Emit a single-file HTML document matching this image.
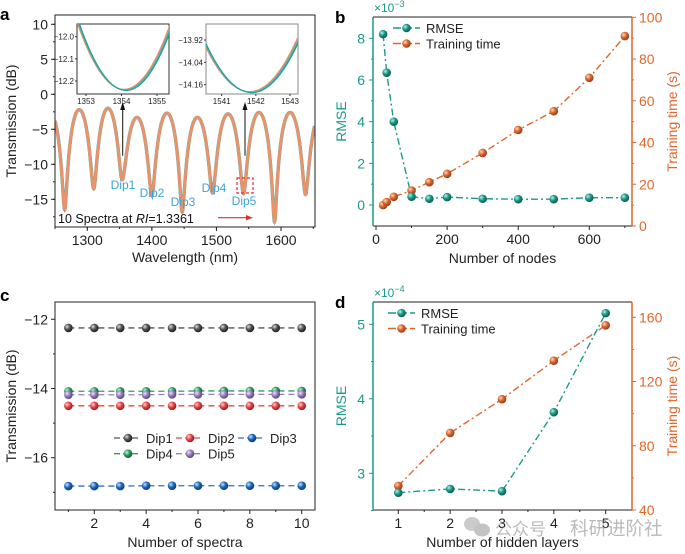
<!DOCTYPE html>
<html><head><meta charset="utf-8"><style>
body{margin:0;background:#fff;}
svg{display:block;font-family:"Liberation Sans","Noto Sans CJK SC",sans-serif;}
</style></head><body>
<svg id="fig" width="685" height="554" viewBox="0 0 685 554" xmlns="http://www.w3.org/2000/svg">
<defs>
<radialGradient id="gT" cx="35%" cy="35%" r="65%"><stop offset="0" stop-color="#bfeee6"/><stop offset="0.5" stop-color="#1a9a8a"/><stop offset="1" stop-color="#0b5f55"/></radialGradient>
<radialGradient id="gO" cx="35%" cy="35%" r="65%"><stop offset="0" stop-color="#ffd9c2"/><stop offset="0.5" stop-color="#e0662c"/><stop offset="1" stop-color="#96401a"/></radialGradient>
<radialGradient id="gK" cx="35%" cy="35%" r="65%"><stop offset="0" stop-color="#ddd"/><stop offset="0.5" stop-color="#555"/><stop offset="1" stop-color="#222"/></radialGradient>
<radialGradient id="gR" cx="35%" cy="35%" r="65%"><stop offset="0" stop-color="#ffd0d0"/><stop offset="0.5" stop-color="#e54848"/><stop offset="1" stop-color="#9a2020"/></radialGradient>
<radialGradient id="gB" cx="35%" cy="35%" r="65%"><stop offset="0" stop-color="#cfe2ff"/><stop offset="0.5" stop-color="#1f6cc0"/><stop offset="1" stop-color="#0d3d7a"/></radialGradient>
<radialGradient id="gG" cx="35%" cy="35%" r="65%"><stop offset="0" stop-color="#cff5dd"/><stop offset="0.5" stop-color="#2aa060"/><stop offset="1" stop-color="#13603a"/></radialGradient>
<radialGradient id="gP" cx="35%" cy="35%" r="65%"><stop offset="0" stop-color="#eee0ff"/><stop offset="0.5" stop-color="#9a7fc0"/><stop offset="1" stop-color="#5e4580"/></radialGradient>
</defs>
<g id="root"></g>
</svg>
<script>
// ---------- DATA ----------
// panel a
const aDipWl = [1220, 1265, 1310, 1354, 1400, 1447, 1494, 1542, 1590, 1638, 1686];
const aDipDb = [-14, -16.5, -13.5, -12.2, -14.5, -16.8, -14.1, -14.2, -18.2, -14.3, -15];
const aPeakDb = [-2.6, -2.2, -2.0, -3.3, -2.7, -3.3, -2.8, -2.6, -2.6, -2.7];
const aXTicks = [1300, 1400, 1500, 1600];
const aYTicks = [10, 5, 0, -5, -10, -15];
const aDipLabels = ["Dip1", "Dip2", "Dip3", "Dip4", "Dip5"];
// panel b
const bNodes = [20, 30, 50, 100, 150, 200, 300, 400, 500, 600, 700];
const bRmse = [8.2, 6.35, 4.0, 0.4, 0.3, 0.38, 0.3, 0.28, 0.28, 0.35, 0.35];
const bTime = [10, 11.5, 14, 17, 21, 25, 35, 46, 55, 71, 91];
const bXTicks = [0, 200, 400, 600];
const bYTicks = [0, 2, 4, 6, 8];
const bY2Ticks = [0, 20, 40, 60, 80, 100];
// panel c
const cSpectra = [1, 2, 3, 4, 5, 6, 7, 8, 9, 10];
const cDip1 = [-12.25, -12.25, -12.25, -12.25, -12.25, -12.25, -12.25, -12.25, -12.25, -12.25];
const cDip2 = [-14.5, -14.5, -14.5, -14.5, -14.5, -14.5, -14.5, -14.5, -14.5, -14.5];
const cDip3 = [-16.82, -16.82, -16.82, -16.81, -16.81, -16.81, -16.81, -16.81, -16.81, -16.81];
const cDip4 = [-14.08, -14.08, -14.08, -14.08, -14.08, -14.07, -14.07, -14.07, -14.07, -14.07];
const cDip5 = [-14.18, -14.18, -14.18, -14.18, -14.17, -14.17, -14.17, -14.17, -14.17, -14.17];
const cXTicks = [2, 4, 6, 8, 10];
const cYTicks = [-12, -14, -16];
// panel d
const dLayers = [1, 2, 3, 4, 5];
const dRmse = [2.74, 2.79, 2.76, 3.82, 5.15];
const dTime = [55, 88, 109, 133, 155];
const dYTicks = [3, 4, 5];
const dY2Ticks = [40, 80, 120, 160];

// ---------- HELPERS ----------
const NS = "http://www.w3.org/2000/svg";
const root = document.getElementById('root');
function el(tag, attrs, parent, txt) {
  const e = document.createElementNS(NS, tag);
  for (const k in attrs) e.setAttribute(k, attrs[k]);
  if (txt !== undefined) e.textContent = txt;
  (parent || root).appendChild(e);
  return e;
}
function lin(d0, d1, r0, r1) { return v => r0 + (v - d0) * (r1 - r0) / (d1 - d0); }
function text(x, y, s, opt, parent) {
  const t = el('text', Object.assign({x: x, y: y, 'font-size': 13, fill: '#222'}, opt || {}), parent, s);
  return t;
}
function ball(x, y, grad, parent, r) {
  const c = el('circle', {cx: x, cy: y, r: r || 4.3, fill: 'url(#' + grad + ')'}, parent);
  
  
  return c;
}
function poly(xs, ys, X, Y, opt, parent) {
  const pts = xs.map((v, i) => X(v).toFixed(2) + ',' + Y(ys[i]).toFixed(2)).join(' ');
  return el('polyline', Object.assign({points: pts, fill: 'none'}, opt), parent);
}

// ---------- PANEL A ----------
(function () {
  const g = el('g', {});
  
  
  const L = 55, R = 315, T = 15, B = 227;
  const X = lin(1250, 1600, 55, 281);
  const Y = lin(0, 10, 94.3, 24.3);
  text(0, 20, 'a', {'font-size': 17, 'font-weight': 'bold', fill: '#000'}, g);
  function T_at(w) {
    let i = 0;
    while (i < aDipWl.length - 2 && w > aDipWl[i + 1]) i++;
    const t = (w - aDipWl[i]) / (aDipWl[i + 1] - aDipWl[i]);
    const dip = t < 0.5 ? aDipDb[i] : aDipDb[i + 1];
    const Lmax = Math.pow(10, aPeakDb[i] / 10), Lmin = Math.pow(10, dip / 10);
    const Lv = Lmin + (Lmax - Lmin) * Math.pow(Math.sin(Math.PI * t), 2);
    return 10 * Math.log10(Lv);
  }
  const ws = [], vs = [];
  for (let w = 1250; w <= 1652; w += 0.25) { ws.push(w); vs.push(T_at(w)); }
  const clip = el('clipPath', {id: 'clipA'}, g);
  el('rect', {x: L, y: T, width: R - L, height: B - T}, clip);
  const cg = el('g', {'clip-path': 'url(#clipA)'}, g);
  const l1 = poly(ws, vs, X, Y, {stroke: '#3aa9a0', 'stroke-width': 3.4}, cg);
  
  
  const l2 = poly(ws, vs, X, Y, {stroke: '#e8936c', 'stroke-width': 3}, cg);
  
  
  el('rect', {x: L, y: T, width: R - L, height: B - T, fill: 'none', stroke: '#222', 'stroke-width': 1}, g);
  aXTicks.forEach(v => { el('line', {x1: X(v), x2: X(v), y1: B, y2: B + 4, stroke: '#222'}, g); text(X(v), B + 18, v, {'text-anchor': 'middle', 'font-size': 14}, g); });
  for (let v = 1250; v <= 1650; v += 50) el('line', {x1: X(v), x2: X(v), y1: B, y2: B + 2, stroke: '#222'}, g);
  aYTicks.forEach(v => { el('line', {x1: L - 4, x2: L, y1: Y(v), y2: Y(v), stroke: '#222'}, g); text(L - 7, Y(v) + 5, v < 0 ? '\u2212' + (-v) : v, {'text-anchor': 'end', 'font-size': 14}, g); });
  for (let v = -17.5; v <= 10; v += 2.5) el('line', {x1: L - 2, x2: L, y1: Y(v), y2: Y(v), stroke: '#222'}, g);
  const yl = text(0, 0, 'Transmission (dB)', {'text-anchor': 'middle', 'font-size': 14, transform: 'translate(16,121) rotate(-90)'}, g);
  
  
  const xl = text(185, 262, 'Wavelength (nm)', {'text-anchor': 'middle', 'font-size': 14}, g);
  
  
  const dl = [[123, 189], [152, 197], [183, 206], [214, 192], [244, 205]];
  aDipLabels.forEach((s, i) => { const t = text(dl[i][0], dl[i][1], s, {'text-anchor': 'middle', 'font-size': 12, fill: '#3aa3dc'}, g);   });
  el('rect', {x: 237, y: 178, width: 16, height: 15, fill: 'none', stroke: '#e03030', 'stroke-width': 1.2, 'stroke-dasharray': '3,2'}, g);
  el('line', {x1: 218, y1: 217.7, x2: 248, y2: 217.7, stroke: '#e03030', 'stroke-width': 1.2}, g);
  el('polygon', {points: '253,217.7 246,215 246,220.4', fill: '#e03030'}, g);
  const ann = text(58, 223, '', {'font-size': 12.5, fill: '#111'}, g);
  ann.innerHTML = '10 Spectra at <tspan font-style="italic">RI</tspan>=1.3361';
  
  
  [[122.7, 155.7], [245, 155.7]].forEach(p => {
    el('line', {x1: p[0], y1: p[1], x2: p[0], y2: 108, stroke: '#111', 'stroke-width': 1}, g);
    el('polygon', {points: p[0] + ',102 ' + (p[0] - 2.5) + ',110 ' + (p[0] + 2.5) + ',110', fill: '#111'}, g);
  });
  function inset(bx0, bx1, xd0, xd1, xpx0, xpx1, yd0, yd1, ypx0, ypx1, xt, yt, dec, cx, cy, halfw, top, name, gray) {
    const ig = el('g', {}, g);
    
    
    const IX = lin(xd0, xd1, xpx0, xpx1), IY = lin(yd0, yd1, ypx0, ypx1);
    el('rect', {x: bx0, y: 24, width: bx1 - bx0, height: 70, fill: '#fff', stroke: gray ? '#888' : '#333', 'stroke-width': 1}, ig);
    const ic = el('clipPath', {id: 'c' + name}, ig);
    el('rect', {x: bx0, y: 24, width: bx1 - bx0, height: 70}, ic);
    const cg2 = el('g', {'clip-path': 'url(#c' + name + ')'}, ig);
    const cols = ['#e8936c', '#d8906a', '#7cb0a0', '#3aa9a0', '#1aa3a0'];
    cols.forEach((c, k) => {
      const xs = [], ys = [];
      const off = (k - 2) * 0.012 * halfw, yo = (k - 2) * (top - cy) * 0.004;
      for (let s = -1.3; s <= 1.3; s += 0.02) { xs.push(cx + off + s * halfw); ys.push(cy - yo + (top - cy) * s * s); }
      poly(xs, ys, IX, IY, {stroke: c, 'stroke-width': 1.1}, cg2);
    });
    xt.forEach(v => { el('line', {x1: IX(v), x2: IX(v), y1: 94, y2: 96, stroke: '#333'}, ig); text(IX(v), 104, v, {'text-anchor': 'middle', 'font-size': 8}, ig); });
    yt.forEach(v => { el('line', {x1: bx0 - 2, x2: bx0, y1: IY(v), y2: IY(v), stroke: '#333'}, ig); text(bx0 - 3, IY(v) + 3, '\u2212' + (-v).toFixed(dec), {'text-anchor': 'end', 'font-size': 8}, ig); });
  }
  inset(77, 169, 1353, 1355, 86, 157, -12.0, -12.2, 36.7, 81, [1353, 1354, 1355], [-12.0, -12.1, -12.2], 1, 1354.1, -12.24, 1.4, -11.9, 'inset-dip1', false);
  inset(206, 298, 1541, 1543, 221.7, 290, -13.92, -14.16, 40, 84.7, [1541, 1542, 1543], [-13.92, -14.04, -14.16], 2, 1541.85, -14.2, 1.55, -13.85, 'inset-dip5', true);
})();

// ---------- dual axis panel ----------
function dual(cfg) {
  const g = el('g', {});
  
  
  const {L, R, T, B, X, Y, Y2} = cfg;
  const teal = '#1a9a8a', org = '#e0662c';
  text(L - 38, T + 6, cfg.letter, {'font-size': 17, 'font-weight': 'bold', fill: '#000'}, g);
  el('line', {x1: L, x2: R, y1: T, y2: T, stroke: '#222'}, g);
  el('line', {x1: L, x2: R, y1: B, y2: B, stroke: '#222'}, g);
  el('line', {x1: L, x2: L, y1: T, y2: B, stroke: teal, 'stroke-width': 1.5}, g);
  el('line', {x1: R, x2: R, y1: T, y2: B, stroke: org, 'stroke-width': 1.5}, g);
  cfg.xt.forEach(v => { el('line', {x1: X(v), x2: X(v), y1: B, y2: B + 4, stroke: '#222'}, g); text(X(v), B + 18, v, {'text-anchor': 'middle', 'font-size': 14}, g); });
  cfg.xm.forEach(v => el('line', {x1: X(v), x2: X(v), y1: B, y2: B + 2, stroke: '#222'}, g));
  cfg.yt.forEach(v => { el('line', {x1: L - 4, x2: L, y1: Y(v), y2: Y(v), stroke: teal}, g); text(L - 8, Y(v) + 5, v, {'text-anchor': 'end', 'font-size': 14, fill: teal}, g); });
  cfg.ym.forEach(v => el('line', {x1: L - 2, x2: L, y1: Y(v), y2: Y(v), stroke: teal}, g));
  cfg.y2t.forEach(v => { el('line', {x1: R, x2: R + 4, y1: Y2(v), y2: Y2(v), stroke: org}, g); text(R + 7, Y2(v) + 5, v, {'font-size': 14, fill: org}, g); });
  cfg.y2m.forEach(v => el('line', {x1: R, x2: R + 2, y1: Y2(v), y2: Y2(v), stroke: org}, g));
  const ex = text(L + 1, T - 5, '', {'font-size': 12, fill: teal}, g);
  ex.innerHTML = '\u00d710<tspan dy="-5" font-size="9">\u2212' + cfg.exp + '</tspan>';
  const yl = text(0, 0, 'RMSE', {'text-anchor': 'middle', 'font-size': 14, fill: teal, transform: 'translate(' + (L - 27) + ',' + ((T + B) / 2) + ') rotate(-90)'}, g);
  
  
  const y2l = text(0, 0, 'Training time (s)', {'text-anchor': 'middle', 'font-size': 14, fill: org, transform: 'translate(' + (R + 45) + ',' + ((T + B) / 2) + ') rotate(-90)'}, g);
  
  
  const xl = text((L + R) / 2, B + 37, cfg.xlabel, {'text-anchor': 'middle', 'font-size': 14}, g);
  
  
  const s2 = poly(cfg.x, cfg.t, X, Y2, {stroke: org, 'stroke-width': 1.4, 'stroke-dasharray': '7,3,2,3'}, g);
  
  
  const s1 = poly(cfg.x, cfg.r, X, Y, {stroke: teal, 'stroke-width': 1.4, 'stroke-dasharray': '7,3,2,3'}, g);
  
  
  cfg.x.forEach((v, i) => ball(X(v), Y2(cfg.t[i]), 'gO', g));
  cfg.x.forEach((v, i) => ball(X(v), Y(cfg.r[i]), 'gT', g));
  const lg = el('g', {}, g);
  
  
  const lx = cfg.lx, ly = cfg.ly;
  [['RMSE', teal, 'gT'], ['Training time', org, 'gO']].forEach((e, k) => {
    const yy = ly + k * 15.5;
    el('line', {x1: lx, x2: lx + 27, y1: yy, y2: yy, stroke: e[1], 'stroke-width': 1.4, 'stroke-dasharray': '8,3'}, lg);
    ball(lx + 13.5, yy, e[2], lg);
    text(lx + 33, yy + 5, e[0], {'font-size': 13}, lg);
  });
}
dual({name: 'panel-b', letter: 'b', L: 373, R: 632, T: 17, B: 226,
  X: lin(0, 600, 376, 589.3), Y: lin(0, 8, 205, 38.3), Y2: lin(0, 100, 226, 17.3),
  xt: bXTicks, xm: [100, 300, 500, 700], yt: bYTicks, ym: [1, 3, 5, 7], y2t: bY2Ticks, y2m: [10, 30, 50, 70, 90],
  exp: 3, xlabel: 'Number of nodes', x: bNodes, r: bRmse, t: bTime, lx: 393, ly: 28});
dual({name: 'panel-d', letter: 'd', L: 373, R: 632, T: 302, B: 510,
  X: lin(1, 5, 398.3, 605.7), Y: lin(3, 5, 473.3, 324.3), Y2: lin(40, 160, 510, 317.3),
  xt: dLayers, xm: [1.5, 2.5, 3.5, 4.5], yt: dYTicks, ym: [2.5, 3.5, 4.5], y2t: dY2Ticks, y2m: [60, 100, 140],
  exp: 4, xlabel: 'Number of hidden layers', x: dLayers, r: dRmse, t: dTime, lx: 388, ly: 313});

// ---------- PANEL C ----------
(function () {
  const g = el('g', {});
  
  
  const L = 55, R = 315, T = 302, B = 510;
  const X = lin(2, 10, 94.3, 301.7), Y = lin(-12, -16, 319.3, 457.7);
  text(0, 301, 'c', {'font-size': 17, 'font-weight': 'bold', fill: '#000'}, g);
  el('rect', {x: L, y: T, width: R - L, height: B - T, fill: 'none', stroke: '#222'}, g);
  cXTicks.forEach(v => { el('line', {x1: X(v), x2: X(v), y1: B, y2: B + 4, stroke: '#222'}, g); text(X(v), B + 18, v, {'text-anchor': 'middle', 'font-size': 14}, g); });
  [1, 3, 5, 7, 9].forEach(v => el('line', {x1: X(v), x2: X(v), y1: B, y2: B + 2, stroke: '#222'}, g));
  cYTicks.forEach(v => { el('line', {x1: L - 4, x2: L, y1: Y(v), y2: Y(v), stroke: '#222'}, g); text(L - 7, Y(v) + 5, '\u2212' + (-v), {'text-anchor': 'end', 'font-size': 14}, g); });
  [-13, -15, -17].forEach(v => el('line', {x1: L - 2, x2: L, y1: Y(v), y2: Y(v), stroke: '#222'}, g));
  const yl = text(0, 0, 'Transmission (dB)', {'text-anchor': 'middle', 'font-size': 14, transform: 'translate(16,406) rotate(-90)'}, g);
  
  
  const xl = text(185, 547, 'Number of spectra', {'text-anchor': 'middle', 'font-size': 14}, g);
  
  
  const series = [['Dip1', cDip1, '#555', 'gK'], ['Dip2', cDip2, '#e54848', 'gR'], ['Dip3', cDip3, '#2a70c0', 'gB'], ['Dip4', cDip4, '#2aa060', 'gG'], ['Dip5', cDip5, '#9a7fc0', 'gP']];
  series.forEach(s => {
    const p = poly(cSpectra, s[1], X, Y, {stroke: s[2], 'stroke-width': 1.3, 'stroke-dasharray': '6,4'}, g);
    
    
    cSpectra.forEach((v, i) => ball(X(v), Y(s[1][i]), s[3], g));
  });
  const lg = el('g', {}, g);
  
  
  const pos = [[114, 438], [176, 438], [238, 438], [114, 453.7], [176, 453.7]];
  series.forEach((s, k) => {
    const [x, y] = pos[k];
    el('line', {x1: x, x2: x + 27, y1: y, y2: y, stroke: s[2], 'stroke-width': 1.3, 'stroke-dasharray': '6,3'}, lg);
    ball(x + 14, y, s[3], lg);
    text(x + 32, y + 5, s[0], {'font-size': 13}, lg);
  });
})();

// watermark
const wm = el('g', {opacity: 0.5});


el('ellipse', {cx: 472, cy: 524, rx: 8, ry: 7, fill: '#999'}, wm);
el('ellipse', {cx: 482, cy: 530, rx: 8, ry: 6.5, fill: '#888'}, wm);
text(495, 535, '公众号', {'font-size': 17, fill: '#777'}, wm);
text(570, 535, '科研进阶社', {'font-size': 18.5, fill: '#777'}, wm);
</script>
</body></html>
